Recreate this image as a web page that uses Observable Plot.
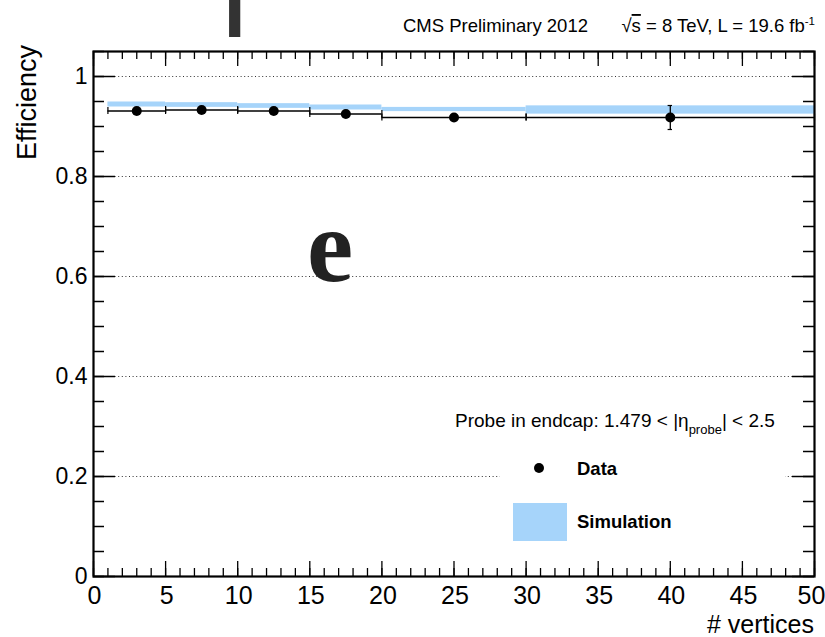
<!DOCTYPE html>
<html><head><meta charset="utf-8">
<script src="https://cdn.jsdelivr.net/npm/d3@7"></script>
<script src="https://cdn.jsdelivr.net/npm/@observablehq/plot@0.6"></script>
<style>
body{margin:0;background:#fff;}
#chart{position:relative;width:825px;height:637px;overflow:hidden;}
</style>
</head><body><div id="chart"></div>
<script>
// ---- data ----
const binLow  = [1, 5, 10, 15, 20, 30];
const binHigh = [5, 10, 15, 20, 30, 50];
const dataX   = [3, 7.5, 12.5, 17.5, 25, 40];
const dataEff = [0.931, 0.933, 0.931, 0.925, 0.918, 0.918];
const dataErr = [0.003, 0.003, 0.003, 0.003, 0.004, 0.024];
const simEff  = [0.944, 0.943, 0.941, 0.938, 0.934, 0.933];
const simErr  = [0.005, 0.0047, 0.0047, 0.005, 0.0042, 0.0083];
const xTickLabels = [0, 5, 10, 15, 20, 25, 30, 35, 40, 45, 50];
const yTickLabels = [0, 0.2, 0.4, 0.6, 0.8, 1];
const gridY = [0.2, 0.4, 0.6, 0.8, 1];
const headerLeft = "CMS Preliminary 2012";
const legendTitle = "Probe in endcap: 1.479 < |η";
const legendLabels = ["Data", "Simulation"];
const xTitle = "# vertices";
const yTitle = "Efficiency";

const bins = binLow.map((lo, i) => ({
  lo, hi: binHigh[i], x: dataX[i], eff: dataEff[i], err: dataErr[i],
  sim: simEff[i], simErr: simErr[i]
}));
const edges = bins.flatMap(b => [{x: b.lo, eff: b.eff}, {x: b.hi, eff: b.eff}]);

const W = 825, H = 637, mL = 93, mR = 11, mT = 51, mB = 61;
const pw = W - mL - mR, ph = H - mT - mB;
const xMinor = d3.range(0, 50.001, 1);
const yMinor = d3.range(0, 1.0501, 0.05);
const SIM = "#a6d4fa";
const FONT = "'Liberation Sans', Arial, Helvetica, sans-serif";
const capPx = 3.5 / (ph / 1.05);   // end-tick half length in data units
const capX = 2.2 / (pw / 50);
const xLast = xTickLabels[xTickLabels.length - 1];

const chart = Plot.plot({
  width: W, height: H,
  marginLeft: mL, marginRight: mR, marginTop: mT, marginBottom: mB,
  x: {domain: [0, 50], axis: null},
  y: {domain: [0, 1.05], axis: null},
  style: {fontFamily: FONT, background: "white", color: "black"},
  marks: [
    Plot.ruleY(gridY, {y: d => d, stroke: "#333", strokeWidth: 1.1, strokeDasharray: "1,2.6"}),
    Plot.rect(bins, {x1: "lo", x2: "hi", y1: d => d.sim - d.simErr, y2: d => d.sim + d.simErr, fill: SIM}),
    Plot.ruleY(bins, {x1: "lo", x2: "hi", y: "eff", stroke: "black", strokeWidth: 1.5}),
    Plot.ruleX(edges, {x: "x", y1: d => d.eff - capPx, y2: d => d.eff + capPx, stroke: "black", strokeWidth: 1.2}),
    Plot.ruleX(bins, {x: "x", y1: d => d.eff - d.err, y2: d => d.eff + d.err, stroke: "black", strokeWidth: 1.3}),
    Plot.ruleY(bins.flatMap(b => [{x: b.x, y: b.eff - b.err}, {x: b.x, y: b.eff + b.err}]),
      {x1: d => d.x - capX, x2: d => d.x + capX, y: "y", stroke: "black", strokeWidth: 1.2}),
    Plot.dot(bins, {x: "x", y: "eff", r: 5, fill: "black", stroke: "none"}),
    // ticks (inward)
    Plot.tickY(yMinor, {y: d => d, insetRight: pw - 11, stroke: "black", strokeWidth: 1.5}),
    Plot.tickY(yTickLabels, {y: d => d, insetRight: pw - 22, stroke: "black", strokeWidth: 1.5}),
    Plot.tickY(yMinor, {y: d => d, insetLeft: pw - 11, stroke: "black", strokeWidth: 1.5}),
    Plot.tickY(yTickLabels, {y: d => d, insetLeft: pw - 22, stroke: "black", strokeWidth: 1.5}),
    Plot.tickX(xMinor, {x: d => d, insetTop: ph - 8, stroke: "black", strokeWidth: 1.3}),
    Plot.tickX(xTickLabels, {x: d => d, insetTop: ph - 15, stroke: "black", strokeWidth: 1.3}),
    Plot.tickX(xMinor, {x: d => d, insetBottom: ph - 8, stroke: "black", strokeWidth: 1.3}),
    Plot.tickX(xTickLabels, {x: d => d, insetBottom: ph - 15, stroke: "black", strokeWidth: 1.3}),
    Plot.frame({stroke: "black", strokeWidth: 2.2}),
    // tick labels
    Plot.text(xTickLabels.filter(d => d !== xLast), {x: d => d, text: d => String(d), frameAnchor: "bottom", lineAnchor: "top", dy: 10, dx: 1, fontSize: 25, fill: "black"}),
    Plot.text([xLast], {x: d => d, text: d => String(d), frameAnchor: "bottom", lineAnchor: "top", dy: 10, dx: -3, fontSize: 25, fill: "black"}),
    Plot.text(yTickLabels, {y: d => d, text: d => String(d), frameAnchor: "left", textAnchor: "end", dx: -6, fontSize: 23, fill: "black"})
  ]
});

document.getElementById("chart").appendChild(chart);
const svg = d3.select(chart);

// legend white box covering the grid
svg.append("rect").attr("x", 500).attr("y", 445).attr("width", 285).attr("height", 110).attr("fill", "white");

const g = svg.append("g").attr("font-family", FONT).attr("fill", "black").attr("text-anchor", "start");
// header
g.append("text").attr("x", 588).attr("y", 32).attr("text-anchor", "end").attr("font-size", 18.5).text(headerLeft);
const hdr = g.append("text").attr("x", 815).attr("y", 32).attr("text-anchor", "end").attr("font-size", 18.5);
hdr.append("tspan").text("√");
hdr.append("tspan").style("text-decoration", "overline").text("s");
hdr.append("tspan").text(" = 8 TeV, L = 19.6 fb");
hdr.append("tspan").attr("dy", -7).attr("font-size", 11.5).text("-1");

// axis titles
g.append("text").attr("x", 814).attr("y", 633).attr("text-anchor", "end").attr("font-size", 25).text(xTitle);
g.append("text").attr("transform", "translate(36,45) rotate(-90)").attr("text-anchor", "end").attr("font-size", 27).text(yTitle);

// legend
const lt = g.append("text").attr("x", 455).attr("y", 427).attr("font-size", 19);
lt.append("tspan").text(legendTitle);
lt.append("tspan").attr("dy", 7).attr("font-size", 13).text("probe");
lt.append("tspan").attr("dy", -7).text("| < 2.5");
g.append("circle").attr("cx", 539).attr("cy", 468).attr("r", 5).attr("fill", "black");
g.append("text").attr("x", 577).attr("y", 475).attr("font-size", 18.5).attr("font-weight", "bold").text(legendLabels[0]);
g.append("rect").attr("x", 513).attr("y", 503).attr("width", 54).attr("height", 38).attr("fill", SIM);
g.append("text").attr("x", 577).attr("y", 528).attr("font-size", 18.5).attr("font-weight", "bold").text(legendLabels[1]);

// stray large glyphs
g.append("text").attr("x", 307).attr("y", 281).attr("font-family", "'Liberation Serif', 'DejaVu Serif', serif")
  .attr("font-weight", "bold").attr("font-size", 104).attr("fill", "#222").text("e");
g.append("text").attr("transform", "translate(220.6,-4.5) scale(0.65,1)").attr("font-family", FONT)
  .attr("font-size", 196).attr("fill", "#333").text("p");
</script>
</body></html>
